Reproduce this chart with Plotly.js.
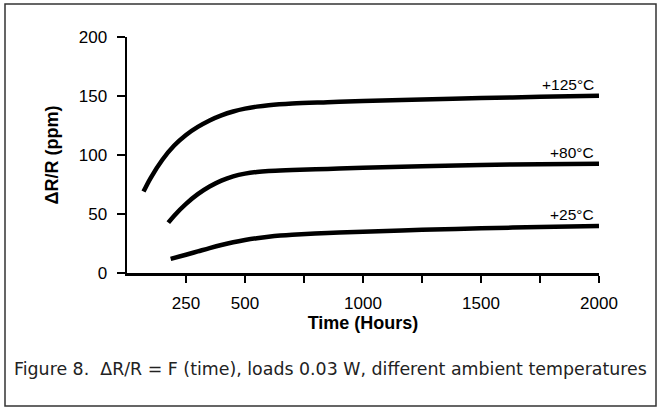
<!DOCTYPE html>
<html>
<head>
<meta charset="utf-8">
<script src="https://cdn.plot.ly/plotly-3.0.1.min.js"></script>
<style>
html,body{margin:0;padding:0;background:#fff;}
#chart{width:659px;height:412px;}
</style>
</head>
<body>
<div id="chart"></div>
<script>
// ---- data ----
const hours125 = [70, 100, 150, 200, 250, 300, 350, 400, 450, 500, 550, 600, 700, 850, 1000, 1250, 1500, 1750, 2000];
const drr125   = [69, 80.5, 96, 108, 117.0, 123.8, 129.3, 133.6, 136.9, 139.3, 141.0, 142.2, 143.6, 144.7, 145.7, 147.0, 148.2, 149.3, 150.2];

const hours80 = [175, 200, 250, 300, 350, 400, 450, 500, 550, 600, 700, 850, 1000, 1250, 1500, 1750, 2000];
const drr80   = [42.6, 48.6, 58.6, 66.8, 73.3, 78.3, 81.9, 84.2, 85.6, 86.4, 87.2, 88.2, 89.2, 90.5, 91.6, 92.2, 92.6];

const hours25 = [185, 250, 300, 350, 400, 450, 500, 550, 600, 650, 700, 850, 1000, 1250, 1500, 1750, 2000];
const drr25   = [12, 15.5, 18.3, 21.1, 23.7, 26.0, 27.9, 29.5, 30.8, 31.8, 32.5, 33.9, 35.0, 36.6, 37.9, 38.9, 39.8];

const seriesLabels = ["+125°C", "+80°C", "+25°C"];
const xTickVals = [250, 500, 750, 1000, 1250, 1500, 1750, 2000];
const xTickText = ["250", "500", "", "1000", "", "1500", "", "2000"];
const yTickVals = [0, 50, 100, 150, 200];

const xTitle = "Time (Hours)";
const yTitle = "ΔR/R (ppm)";
const caption = "Figure 8.  ΔR/R = F (time), loads 0.03 W, different ambient temperatures";

// ---- chart ----
const W = 659, H = 412;
const M = {l: 127, r: 60, t: 37, b: 139};
const pw = W - M.l - M.r, ph = H - M.t - M.b;
const px = v => (v - M.l) / pw;        // pixel -> paper x
const py = v => (H - M.b - v) / ph;    // pixel -> paper y

const lineStyle = {color: "#000", width: 4.5, shape: "spline", smoothing: 1};
const sets = [[hours125, drr125], [hours80, drr80], [hours25, drr25]];
const traces = sets.map((s, i) => ({
  x: s[0], y: s[1], type: "scatter", mode: "lines",
  line: lineStyle, name: seriesLabels[i], showlegend: false, hoverinfo: "skip"
}));

const annotations = sets.map((s, i) => ({
  x: s[0][s[0].length - 1], y: s[1][s[1].length - 1],
  xref: "x", yref: "y", text: seriesLabels[i], showarrow: false,
  xanchor: "right", yanchor: "bottom", xshift: -3, yshift: 1,
  font: {family: "Liberation Sans, Arial, sans-serif", size: 15.5, color: "#000"}
}));
annotations.push({
  x: px(12), y: py(369), xref: "paper", yref: "paper", text: caption,
  showarrow: false, xanchor: "left", yanchor: "middle",
  font: {family: "DejaVu Sans, sans-serif", size: 17.4, color: "#222"}
});

const layout = {
  width: W, height: H,
  margin: M,
  paper_bgcolor: "#fff", plot_bgcolor: "#fff",
  showlegend: false,
  xaxis: {
    range: [0, 2000], showgrid: false, zeroline: false,
    showline: true, linecolor: "#000", linewidth: 2.5,
    ticks: "outside", ticklen: 7, tickwidth: 1.5, tickcolor: "#000",
    tickmode: "array", tickvals: xTickVals, ticktext: xTickText,
    ticklabelstandoff: 6,
    tickfont: {family: "Liberation Sans, Arial, sans-serif", size: 17, color: "#000"},
    title: {text: xTitle, standoff: 4,
      font: {family: "Liberation Sans, Arial, sans-serif", size: 18, color: "#000", weight: "bold"}},
    fixedrange: true
  },
  yaxis: {
    range: [0, 200], showgrid: false, zeroline: false,
    showline: true, linecolor: "#000", linewidth: 2.5,
    ticks: "outside", ticklen: 8, tickwidth: 1.5, tickcolor: "#000",
    tickmode: "array", tickvals: yTickVals,
    ticklabelstandoff: 6,
    tickfont: {family: "Liberation Sans, Arial, sans-serif", size: 17, color: "#000"},
    title: {text: yTitle, standoff: 16,
      font: {family: "Liberation Sans, Arial, sans-serif", size: 18, color: "#000", weight: "bold"}},
    fixedrange: true
  },
  annotations: annotations,
  shapes: [{
    type: "rect", xref: "paper", yref: "paper",
    x0: px(5), x1: px(656), y0: py(406), y1: py(4),
    line: {color: "#333", width: 1.5}, fillcolor: "rgba(0,0,0,0)", layer: "below"
  }]
};

Plotly.newPlot("chart", traces, layout, {displayModeBar: false, staticPlot: true});
</script>
</body>
</html>
